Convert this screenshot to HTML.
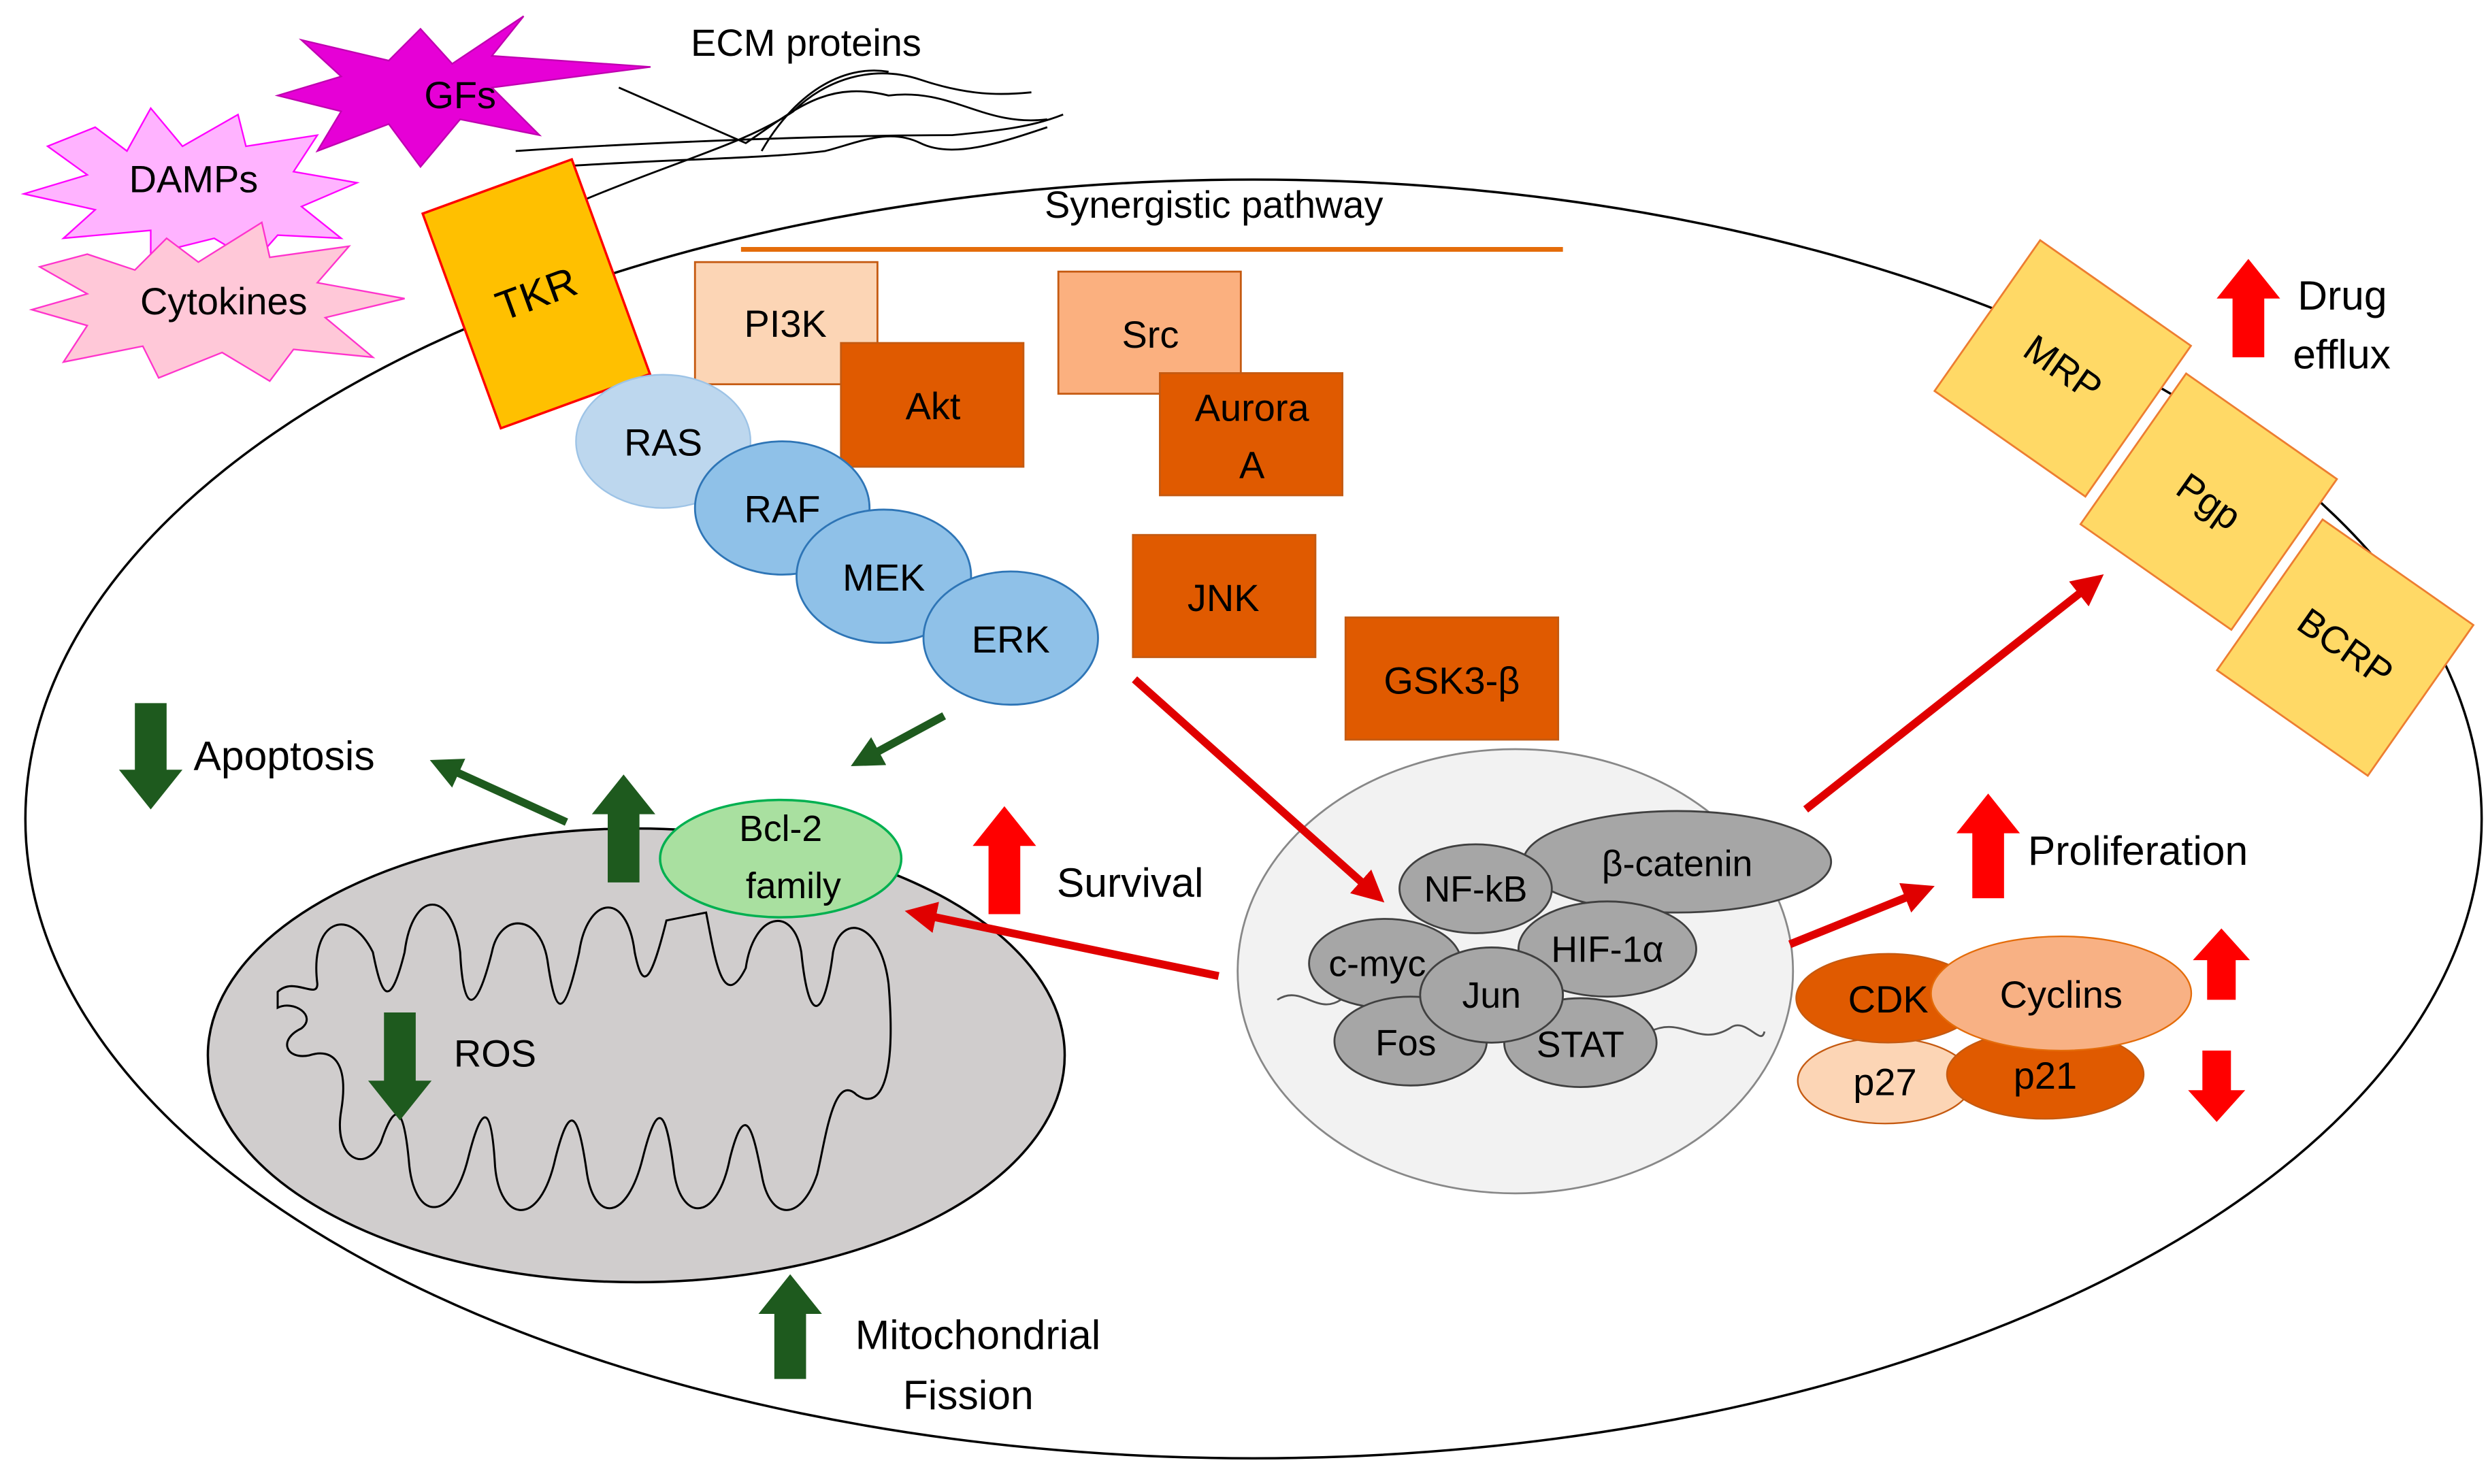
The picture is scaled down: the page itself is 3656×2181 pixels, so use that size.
<!DOCTYPE html>
<html><head><meta charset="utf-8"><style>
html,body{margin:0;padding:0;background:#fff}
svg{display:block}
text{font-family:"Liberation Sans","DejaVu Sans",sans-serif;fill:#000}
</style></head><body>
<svg width="3656" height="2181" viewBox="0 0 1568 935" xmlns="http://www.w3.org/2000/svg">
<defs>
<marker id="ar" markerWidth="4" markerHeight="4" refX="2" refY="2" orient="auto" markerUnits="strokeWidth"><path d="M0,0 L4,2 L0,4 z" fill="#e00000"/></marker>
<marker id="ag" markerWidth="4" markerHeight="4" refX="2" refY="2" orient="auto" markerUnits="strokeWidth"><path d="M0,0 L4,2 L0,4 z" fill="#1e5a1e"/></marker>
</defs>
<rect width="1568" height="935" fill="#fff"/>
<ellipse cx="790" cy="516" rx="774" ry="403" fill="#fff" stroke="#000" stroke-width="1.5"/>
<g fill="none" stroke="#000" stroke-width="1.2">
<path d="M390,55 L470,90 C500,70 520,50 560,60 C600,55 620,80 660,75"/>
<path d="M325,95 C400,90 520,85 600,85 C630,82 650,80 670,72"/>
<path d="M370,125 C430,100 470,90 500,70 C520,50 550,40 580,50 C610,60 630,60 650,58"/>
<path d="M350,105 C420,100 480,100 520,95 C540,90 560,80 580,90 C600,100 630,90 660,80"/>
<path d="M480,95 C500,60 530,40 560,45"/>
</g>
<text x="508" y="35" font-size="24" text-anchor="middle">ECM proteins</text>
<polygon points="265,18 285,40 330,10 310,35 410,42 310,55 340,85 290,75 265,105 245,78 200,95 215,70 175,60 215,48 190,25 245,38" fill="#e600d6" stroke="#c000b0"/>
<text x="290" y="68" font-size="24" text-anchor="middle">GFs</text>
<polygon points="60,80 80,95 95,68 115,92 150,72 155,92 200,85 185,108 225,115 190,130 215,150 175,148 160,165 135,150 95,160 95,145 40,150 60,132 15,122 55,110 30,92" fill="#ffb3ff" stroke="#ff00ff"/>
<text x="122" y="121" font-size="24" text-anchor="middle">DAMPs</text>
<polygon points="55,160 85,170 105,150 125,165 165,140 170,162 220,155 200,178 255,188 205,200 235,225 185,220 170,240 140,222 100,238 90,218 40,228 55,205 20,195 55,185 25,168" fill="#ffc8d8" stroke="#ff33cc"/>
<text x="141" y="198" font-size="24" text-anchor="middle">Cytokines</text>
<ellipse cx="401" cy="665" rx="270" ry="143" fill="#d0cdcd" stroke="#000" stroke-width="1.5"/>
<path d="M175,625 C185,615 200,630 200,620 C195,580 220,570 235,600 C240,625 245,640 255,600 C260,560 285,560 290,600 C292,640 300,640 310,600 C315,575 340,575 345,605 C350,640 355,645 365,600 C370,565 395,560 400,600 C405,625 410,620 420,580 L445,575 C450,600 455,640 470,610 C475,575 500,570 505,600 C510,650 520,640 525,600 C530,575 555,580 560,620 C565,680 555,700 540,690 C525,675 520,720 515,740 C505,770 485,770 480,740 C475,715 470,690 460,730 C452,770 430,770 425,740 C420,700 415,690 405,730 C395,770 375,770 370,740 C365,705 360,690 350,730 C340,775 315,770 312,735 C310,700 305,690 295,730 C285,770 262,770 258,735 C255,700 250,690 240,720 C230,740 210,730 215,700 C220,670 210,660 195,665 C180,668 175,655 190,648 C200,640 185,630 175,635 Z" fill="none" stroke="#000" stroke-width="1.3"/>
<text x="312" y="672" font-size="24" text-anchor="middle">ROS</text>
<ellipse cx="955" cy="612" rx="175" ry="140" fill="#f2f2f2" stroke="#888" stroke-width="1.2"/>
<path d="M805,630 C820,620 830,640 845,630 M1040,650 C1060,640 1070,660 1090,648 C1100,640 1110,660 1112,650" fill="none" stroke="#555" stroke-width="1.2"/>
<g fill="#a6a6a6" stroke="#404040" stroke-width="1.2">
<ellipse cx="1057" cy="543" rx="97" ry="32"/>
<ellipse cx="930" cy="560" rx="48" ry="28"/>
<ellipse cx="1013" cy="598" rx="56" ry="30"/>
<ellipse cx="873" cy="607" rx="48" ry="28"/>
<ellipse cx="889" cy="656" rx="48" ry="28"/>
<ellipse cx="996" cy="657" rx="48" ry="28"/>
<ellipse cx="940" cy="627" rx="45" ry="30"/>
</g>
<g font-size="23" text-anchor="middle">
<text x="1057" y="552">β-catenin</text><text x="930" y="568">NF-kB</text><text x="1013" y="606">HIF-1α</text>
<text x="868" y="615">c-myc</text><text x="940" y="635">Jun</text><text x="886" y="665">Fos</text><text x="996" y="666">STAT</text>
</g>
<text x="765" y="137" font-size="24" text-anchor="middle">Synergistic pathway</text>
<line x1="467" y1="157" x2="985" y2="157" stroke="#e46c0a" stroke-width="3"/>
<g stroke="#c55a11" stroke-width="1.2">
<rect x="438" y="165" width="115" height="77" fill="#fcd5b5"/>
<rect x="530" y="216" width="115" height="78" fill="#e05a00"/>
<rect x="667" y="171" width="115" height="77" fill="#fbb07f"/>
<rect x="731" y="235" width="115" height="77" fill="#e05a00"/>
<rect x="714" y="337" width="115" height="77" fill="#e05a00"/>
<rect x="848" y="389" width="134" height="77" fill="#e05a00"/>
</g>
<g font-size="24" text-anchor="middle">
<text x="495" y="212">PI3K</text><text x="588" y="264">Akt</text><text x="725" y="219">Src</text>
<text x="789" y="265">Aurora</text><text x="789" y="301">A</text><text x="771" y="385">JNK</text><text x="915" y="437">GSK3-β</text>
</g>
<g transform="translate(338,185) rotate(-20)"><rect x="-50" y="-72" width="100" height="144" fill="#ffc000" stroke="#ff0000" stroke-width="1.5"/><text x="0" y="9" font-size="26" text-anchor="middle">TKR</text></g>
<ellipse cx="418" cy="278" rx="55" ry="42" fill="#bdd7ee" stroke="#9dc3e6"/>
<ellipse cx="493" cy="320" rx="55" ry="42" fill="#8fc1e8" stroke="#2e75b6" stroke-width="1.2"/>
<ellipse cx="557" cy="363" rx="55" ry="42" fill="#8fc1e8" stroke="#2e75b6" stroke-width="1.2"/>
<ellipse cx="637" cy="402" rx="55" ry="42" fill="#8fc1e8" stroke="#2e75b6" stroke-width="1.2"/>
<g font-size="24" text-anchor="middle"><text x="418" y="287">RAS</text><text x="493" y="329">RAF</text><text x="557" y="372">MEK</text><text x="637" y="411">ERK</text></g>
<g stroke="#ed7d31" stroke-width="1.2" fill="#ffd966" font-size="24">
<g transform="translate(1300,232) rotate(35)"><rect x="-58" y="-58" width="116" height="116"/><text x="0" y="8" text-anchor="middle" stroke="none">MRP</text></g>
<g transform="translate(1392,316) rotate(35)"><rect x="-58" y="-58" width="116" height="116"/><text x="0" y="8" text-anchor="middle" stroke="none">Pgp</text></g>
<g transform="translate(1478,408) rotate(35)"><rect x="-58" y="-58" width="116" height="116"/><text x="0" y="8" text-anchor="middle" stroke="none">BCRP</text></g>
</g>
<ellipse cx="492" cy="541" rx="76" ry="37" fill="#a9e0a0" stroke="#00b050" stroke-width="1.5"/>
<text x="492" y="530" font-size="23" text-anchor="middle">Bcl-2</text><text x="500" y="566" font-size="23" text-anchor="middle">family</text>
<ellipse cx="1188" cy="681" rx="55" ry="27" fill="#fcd5b5" stroke="#c55a11"/>
<ellipse cx="1289" cy="677" rx="62" ry="28" fill="#e05a00" stroke="#c55a11"/>
<ellipse cx="1190" cy="629" rx="58" ry="28" fill="#e05a00" stroke="#c55a11"/>
<ellipse cx="1299" cy="626" rx="82" ry="36" fill="#f8b184" stroke="#e46c0a"/>
<g font-size="24" text-anchor="middle"><text x="1190" y="638">CDK</text><text x="1299" y="635">Cyclins</text><text x="1188" y="690">p27</text><text x="1289" y="686">p21</text></g>
<g fill="#ff0000">
<polygon points="1417,163 1397,188 1407,188 1407,225 1427,225 1427,188 1437,188"/>
<polygon points="633,508 613,533 623,533 623,576 643,576 643,533 653,533"/>
<polygon points="1253,500 1233,525 1243,525 1243,566 1263,566 1263,525 1273,525"/>
<polygon points="1400,585 1382,605 1391,605 1391,630 1409,630 1409,605 1418,605"/>
<polygon points="1397,707 1379,687 1388,687 1388,662 1406,662 1406,687 1415,687"/>
</g>
<g fill="#1e5a1e">
<polygon points="95,510 75,485 85,485 85,443 105,443 105,485 115,485"/>
<polygon points="393,488 373,513 383,513 383,556 403,556 403,513 413,513"/>
<polygon points="252,706 232,681 242,681 242,638 262,638 262,681 272,681"/>
<polygon points="498,803 478,828 488,828 488,869 508,869 508,828 518,828"/>
</g>
<g stroke-width="5" fill="none">
<line x1="595" y1="451" x2="545" y2="478" stroke="#1e5a1e" marker-end="url(#ag)"/>
<line x1="357" y1="518" x2="280" y2="483" stroke="#1e5a1e" marker-end="url(#ag)"/>
<line x1="715" y1="428" x2="865" y2="562" stroke="#e00000" marker-end="url(#ar)"/>
<line x1="768" y1="615" x2="580" y2="576" stroke="#e00000" marker-end="url(#ar)"/>
<line x1="1138" y1="510" x2="1318" y2="368" stroke="#e00000" marker-end="url(#ar)"/>
<line x1="1128" y1="595" x2="1210" y2="562" stroke="#e00000" marker-end="url(#ar)"/>
</g>
<g font-size="26">
<text x="122" y="485">Apoptosis</text>
<text x="666" y="565">Survival</text>
<text x="1278" y="545">Proliferation</text>
<text x="1448" y="195">Drug</text><text x="1445" y="232">efflux</text>
<text x="539" y="850">Mitochondrial</text><text x="569" y="888">Fission</text>
</g>
</svg>
</body></html>
